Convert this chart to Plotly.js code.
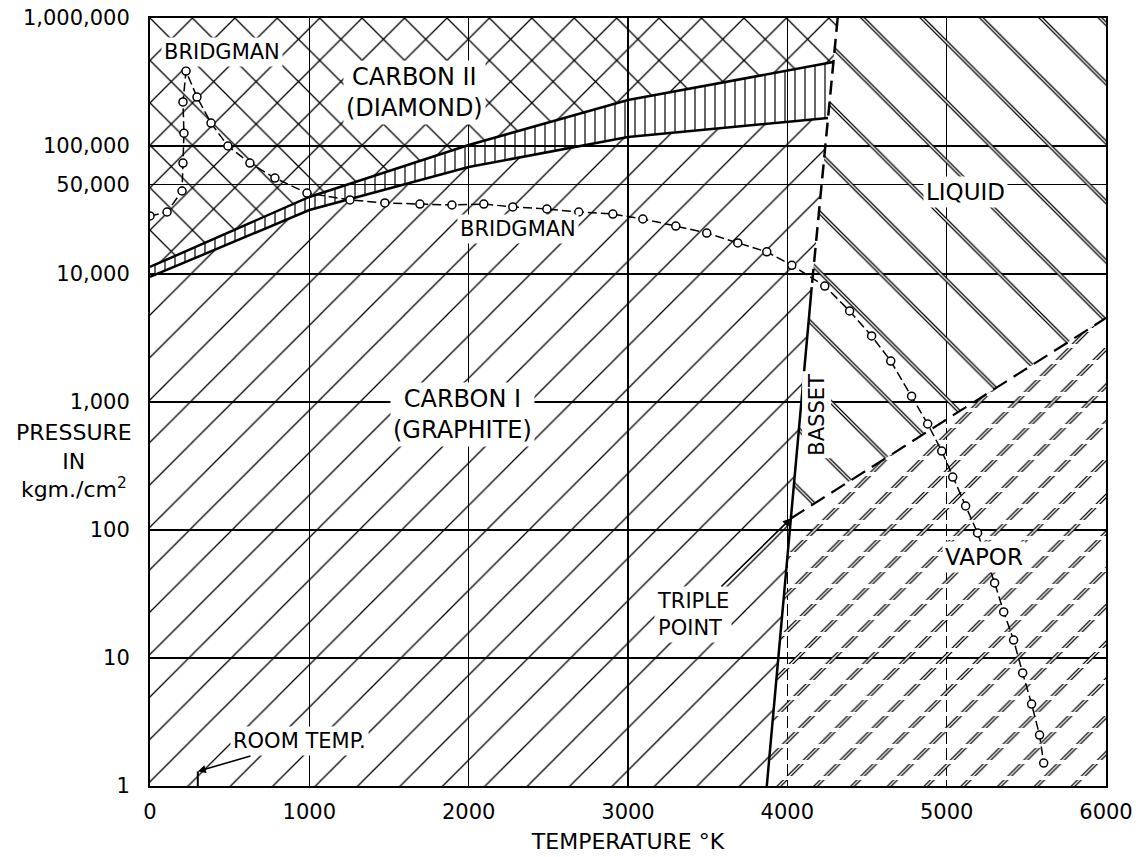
<!DOCTYPE html>
<html><head><meta charset="utf-8">
<script src="https://cdn.plot.ly/plotly-3.0.1.min.js"></script>
<style>html,body{margin:0;padding:0;background:#fff}</style>
</head><body><div id="chart" style="width:1146px;height:857px"></div>
<script>
// ---------- data (temperature in K, pressure in kgm/cm^2) ----------
const bandUpperT = [0, 1000, 2000, 3000, 4289];
const bandUpperP = [11350, 40000, 101800, 228600, 452900];
const bandLowerT = [0, 1000, 2000, 3000, 4255];
const bandLowerP = [9480, 31600, 68500, 117500, 165500];
const meltT = [4316, 4153];
const meltP = [1000000, 7900];
const bassetT = [4153, 3871];
const bassetP = [7900, 1];
const tripleT = 4022;
const tripleP = 123;
const vaporLineT = [4022, 6000];
const vaporLineP = [123, 4530];
const bridgmanT = [0,107,201,207,213,207,226,295,383,489,627,784,985,1255,1474,1694,1895,2095,2277,2491,2691,2905,3093,3300,3494,3689,3871,4028,4235,4391,4529,4649,4780,4881,4969,5038,5119,5194,5301,5358,5420,5477,5533,5583,5609];
const bridgmanP = [28400,30500,44500,73600,126000,221000,385000,241000,151000,100000,73600,56200,42900,37900,35900,35200,34600,35200,33400,32200,30500,29400,26900,23700,20900,17500,14900,11700,8050,5140,3280,2090,1110,673,414,259,154,94.8,38.6,22.9,13.8,7.64,4.37,2.50,1.51];
const roomTempT = [300, 300];
const roomTempP = [1, 1.3];
const xTicks = [0, 1000, 2000, 3000, 4000, 5000, 6000];
const xTickText = ['0', '1000', '2000', '3000', '4000', '5000', '6000'];
const yTicks = [1, 10, 100, 1000, 10000, 50000, 100000, 1000000];
const yTickText = ['1', '10', '100', '1,000', '10,000', '50,000', '100,000', '1,000,000'];
const Tmax = 6000, Pmax = 1000000, Pmin = 1;

// ---------- regions built from the boundary arrays ----------
const rev = a => a.slice().reverse();
const diamondT = [0, meltT[0]].concat(rev(bandUpperT));
const diamondP = [Pmax, meltP[0]].concat(rev(bandUpperP));
const bandT = bandUpperT.concat(rev(bandLowerT));
const bandP = bandUpperP.concat(rev(bandLowerP));
const graphiteT = bandLowerT.concat([meltT[1], bassetT[1], 0]);
const graphiteP = bandLowerP.concat([meltP[1], bassetP[1], Pmin]);
const liquidT = [meltT[0], Tmax, Tmax, tripleT, bassetT[0]];
const liquidP = [Pmax, Pmax, vaporLineP[1], tripleP, bassetP[0]];
const vaporT = [tripleT, Tmax, Tmax, bassetT[1]];
const vaporP = [tripleP, vaporLineP[1], Pmin, Pmin];

const FONT = 'DejaVu Sans';
function region(T, P, shape, size, solidity, fg) {
  return {x: T, y: P, type: 'scatter', mode: 'lines', line: {width: 0}, fill: 'toself',
    fillcolor: 'rgba(0,0,0,0)',
    fillpattern: {shape: shape, size: size, solidity: solidity, fgcolor: fg, bgcolor: 'rgba(0,0,0,0)', fillmode: 'replace'},
    hoverinfo: 'skip', showlegend: false};
}
function line(T, P, width, dash) {
  return {x: T, y: P, type: 'scatter', mode: 'lines', line: {color: '#000', width: width, dash: dash || 'solid'},
    hoverinfo: 'skip', showlegend: false};
}

const traces = [
  region(diamondT, diamondP, 'x', 30, 0.085, '#000'),
  region(bandT, bandP, '|', 10, 0.12, '#000'),
  region(graphiteT, graphiteP, '/', 30, 0.043, '#000'),
  region(liquidT, liquidP, '\\', 42, 0.095, '#000'),
  region(liquidT, liquidP, '\\', 42, 0.033, '#fff'),
  region(vaporT, vaporP, '/', 26, 0.15, '#000'),
  region(vaporT, vaporP, '/', 26, 0.055, '#fff'),
  region(vaporT, vaporP, '-', 16, 0.25, '#fff'),
  line(bandUpperT, bandUpperP, 2.5),
  line(bandLowerT, bandLowerP, 2.5),
  line(meltT, meltP, 2.5, '14px,7px'),
  line(bassetT, bassetP, 2.5),
  line(vaporLineT, vaporLineP, 2.2, '16px,8px'),
  line(roomTempT, roomTempP, 2),
  {x: bridgmanT, y: bridgmanP, type: 'scatter', mode: 'lines+markers',
    line: {color: '#000', width: 1.5, dash: '9px,4px'},
    marker: {symbol: 'circle', size: 8, color: '#fff', line: {color: '#000', width: 1.5}},
    hoverinfo: 'skip', showlegend: false}
];

function f(size) { return {family: FONT, size: size, color: '#000'}; }
function note(text, x, ylog, size, extra) {
  return Object.assign({text: text, x: x, y: ylog, xref: 'x', yref: 'y', showarrow: false,
    font: f(size), bgcolor: '#fff', borderpad: 2}, extra || {});
}
const annotations = [
  note('BRIDGMAN', 452, 5.734, 21),
  note('CARBON II<br>(DIAMOND)', 1660, 5.42, 24),
  note('BRIDGMAN', 2309, 4.352, 21),
  note('CARBON I<br>(GRAPHITE)', 1964, 2.906, 24),
  note('LIQUID', 5119, 4.641, 23),
  note('BASSET', 4184, 2.898, 21, {textangle: -90}),
  note('VAPOR', 5232, 1.789, 23),
  note('TRIPLE<br>POINT', tripleT, Math.log10(tripleP), 21, {showarrow: true, ax: -98, ay: 96,
    align: 'left', arrowhead: 2, arrowwidth: 1.6, arrowsize: 1, arrowcolor: '#000'}),
  note('ROOM TEMP.', roomTempT[1], Math.log10(roomTempP[1]), 21, {showarrow: true, ax: 102, ay: -30,
    arrowhead: 2, arrowwidth: 1.6, arrowsize: 1, arrowcolor: '#000'}),
  {text: 'PRESSURE<br>IN<br>kgm./cm<sup>2</sup>', xref: 'paper', yref: 'paper', x: -0.08, y: 0.423,
    xanchor: 'center', yanchor: 'middle', showarrow: false, font: f(22)}
];

const axisCommon = {showgrid: true, gridcolor: '#000', gridwidth: 1.3, zeroline: false,
  showline: true, linecolor: '#000', linewidth: 2, mirror: true, ticks: '',
  tickfont: f(21), fixedrange: true};

const layout = {
  width: 1146, height: 857,
  margin: {l: 150, r: 40, t: 18, b: 71},
  paper_bgcolor: '#fff', plot_bgcolor: '#fff',
  showlegend: false,
  xaxis: Object.assign({}, axisCommon, {range: [0, Tmax], tickmode: 'array', tickvals: xTicks, ticktext: xTickText,
    ticklabelstandoff: 6,
    title: {text: 'TEMPERATURE °K', font: f(22), standoff: 10}}),
  yaxis: Object.assign({}, axisCommon, {type: 'log', range: [0, 6], tickmode: 'array', tickvals: yTicks, ticktext: yTickText,
    ticklabelstandoff: 14}),
  annotations: annotations
};

Plotly.newPlot('chart', traces, layout, {displayModeBar: false, staticPlot: true});
</script>
</body></html>
